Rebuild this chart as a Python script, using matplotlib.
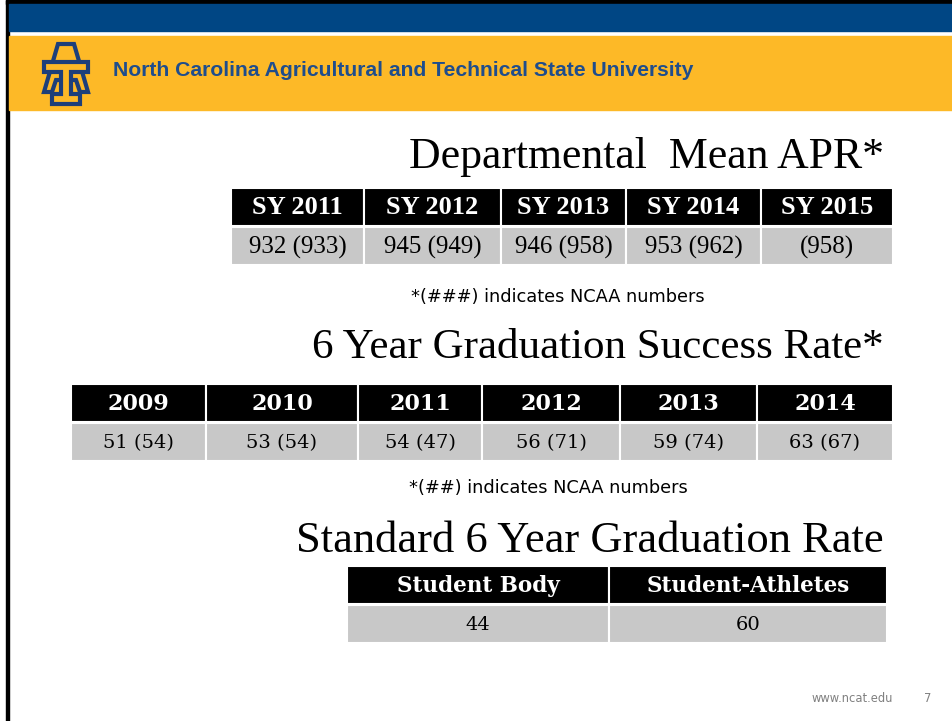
import matplotlib.pyplot as plt
from matplotlib.patches import Rectangle, Polygon

# data
apr_years = ["SY 2011", "SY 2012", "SY 2013", "SY 2014", "SY 2015"]
apr_values = ["932 (933)", "945 (949)", "946 (958)", "953 (962)", "(958)"]
gsr_years = ["2009", "2010", "2011", "2012", "2013", "2014"]
gsr_values = ["51 (54)", "53 (54)", "54 (47)", "56 (71)", "59 (74)", "63 (67)"]
grad_groups = ["Student Body", "Student-Athletes"]
grad_values = ["44", "60"]

NAVY = "#004684"
GOLD = "#FDB927"
GRAY = "#c8c8c8"

fig = plt.figure(figsize=(9.53, 7.21), dpi=100)
ax = fig.add_axes([0, 0, 1, 1])
ax.set_xlim(0, 953)
ax.set_ylim(721, 0)
ax.axis("off")

# slide frame and header bands
ax.add_patch(Rectangle((6, 0), 947, 4, color="black"))
ax.add_patch(Rectangle((6, 0), 3, 721, color="black"))
ax.add_patch(Rectangle((9, 4), 944, 27, color=NAVY))
ax.add_patch(Rectangle((9, 36), 944, 74, color=GOLD))

# rough A&T logo
logo_a = [(58, 44), (74, 44), (88, 92), (80, 92), (76, 80), (56, 80), (52, 92), (44, 92)]
ax.add_patch(Polygon(logo_a, closed=True, facecolor=GOLD, edgecolor="#1d3f7a", lw=3))
logo_t = [(44, 62), (88, 62), (88, 72), (71, 72), (71, 94), (80, 94), (80, 104),
          (52, 104), (52, 94), (61, 94), (61, 72), (44, 72)]
ax.add_patch(Polygon(logo_t, closed=True, facecolor=GOLD, edgecolor="#1d3f7a", lw=3))

ax.text(113, 71, "North Carolina Agricultural and Technical State University",
        fontsize=15.2, fontweight="bold", color="#1f4d8c", family="Liberation Sans",
        va="center", ha="left")


def draw_table(edges, top, labels, values, head_font, body_font, head_size, body_size):
    for i, (lab, val) in enumerate(zip(labels, values)):
        x0, x1 = edges[i], edges[i + 1]
        ax.add_patch(Rectangle((x0, top), x1 - x0, 38, facecolor="black",
                               edgecolor="white", lw=1.5))
        ax.add_patch(Rectangle((x0, top + 39), x1 - x0, 38, facecolor=GRAY,
                               edgecolor="white", lw=1.5))
        xc = (x0 + x1) / 2
        ax.text(xc, top + 20, lab, color="white", fontweight="bold", family=head_font,
                fontsize=head_size, ha="center", va="center")
        ax.text(xc, top + 59, val, color="black", family=body_font,
                fontsize=body_size, ha="center", va="center")


# Departmental Mean APR
ax.text(884, 157, "Departmental  Mean APR*", family="Liberation Serif", fontsize=31.5,
        ha="right", va="center")
draw_table([231, 364, 501, 626, 761, 893], 188, apr_years, apr_values,
           "Liberation Serif", "Liberation Serif", 19, 18)
ax.text(558, 297, "*(###) indicates NCAA numbers", family="DejaVu Sans", fontsize=12.8,
        ha="center", va="center")

# 6 Year Graduation Success Rate
ax.text(884, 348, "6 Year Graduation Success Rate*", family="Liberation Serif", fontsize=31,
        ha="right", va="center")
draw_table([71, 206, 358, 482, 620, 757, 893], 384, gsr_years, gsr_values,
           "DejaVu Serif", "DejaVu Serif", 16, 14)
ax.text(548, 488, "*(##) indicates NCAA numbers", family="DejaVu Sans", fontsize=12.8,
        ha="center", va="center")

# Standard 6 Year Graduation Rate
ax.text(884, 541, "Standard 6 Year Graduation Rate", family="Liberation Serif", fontsize=32,
        ha="right", va="center")
draw_table([347, 609, 887], 566, grad_groups, grad_values,
           "DejaVu Serif", "DejaVu Serif", 15.5, 14)

# footer
ax.text(893, 698, "www.ncat.edu", family="DejaVu Sans", fontsize=8.3, color="#808080",
        ha="right", va="center")
ax.text(928, 698, "7", family="DejaVu Sans", fontsize=8.3, color="#808080",
        ha="center", va="center")

fig.savefig("out.png", dpi=100)
